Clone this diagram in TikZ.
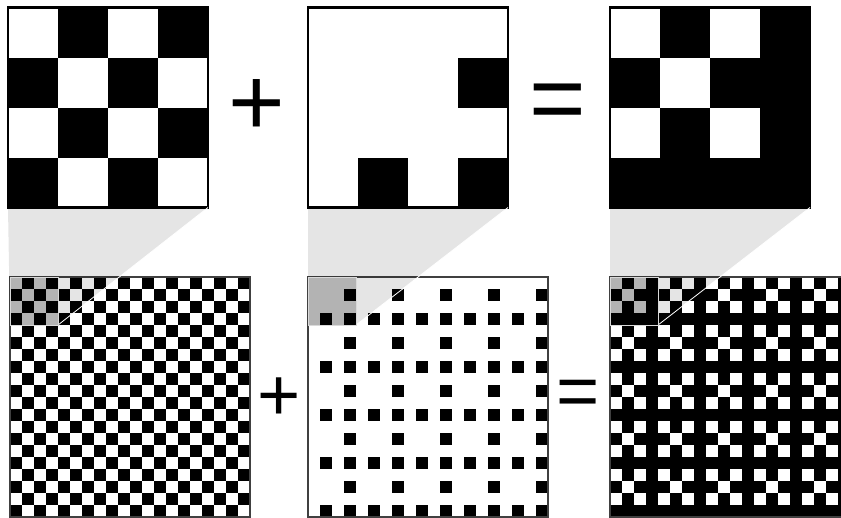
\documentclass[tikz,border=0pt]{standalone}
\usepackage{fontspec}
\newfontfamily\signfont{Liberation Sans}

\tikzset{
  declare function={
    patA(\a,\b)=mod(\a+\b,2);
    patB(\a,\b)=or(and(equal(\a,1),equal(\b,3)),and(equal(\a,3),equal(mod(\b,2),1)));
    patC(\a,\b)=or(patA(\a,\b),patB(\a,\b));
  },
  topframe/.style={draw=black, line width=2.5pt},
  botframe/.style={draw=black!75, line width=2pt},
  zoomfan/.style={fill=black, fill opacity=0.1},
  zoombox/.style={fill=black, fill opacity=0.22, draw=black!15, line width=0.8pt},
  zoomedge/.style={draw=white, line width=0.8pt},
  bigsign/.style={font=\signfont\fontsize{97}{97}\selectfont, inner sep=0pt},
  smallsign/.style={font=\signfont\fontsize{74}{74}\selectfont, inner sep=0pt}
}

\newcommand{\cells}[5]{%
  \pgfmathtruncatemacro{\cellmax}{#4-1}%
  \foreach \r in {0,...,\cellmax}{%
    \foreach \c in {0,...,\cellmax}{%
      \pgfmathtruncatemacro{\isblack}{#5(mod(\r,4),mod(\c,4))}%
      \ifnum\isblack=1 \fill (#1+\c*#3,#2+\r*#3) rectangle ++(#3,#3);\fi
    }%
  }%
}

\begin{document}
\begin{tikzpicture}[x=1pt, y=-1pt]
  \useasboundingbox (0,0) rectangle (841,517);
  \clip (0,0) rectangle (841,517);
  \foreach \pat/\tx/\bx in {patA/8/10, patB/308/308, patC/610/610}{
    \fill[white] (\tx,7.5) rectangle ++(200,200);
    \cells{\tx}{7.5}{50}{4}{\pat}
    \draw[topframe] (\tx,7.5) rectangle ++(200,200);
    \cells{\bx}{277}{12}{20}{\pat}
    \draw[botframe] (\bx,277) rectangle ++(240,240);
    \fill[zoomfan] (\tx,207.5) -- ++(200,0) -- (\bx+48,325) -- (\bx,325) -- cycle;
    \draw[zoomedge] (\bx+48,325) -- (\tx+200,207.5);
    \filldraw[zoombox] (\bx,277) rectangle ++(48,48);
  }
  \node[bigsign] (plusTop) at (257,108) {+};
  \node[bigsign] (equalsTop) at (558,108) {=};
  \node[smallsign] (plusBot) at (279,399) {+};
  \node[smallsign] (equalsBot) at (578,398) {=};
\end{tikzpicture}
\end{document}
